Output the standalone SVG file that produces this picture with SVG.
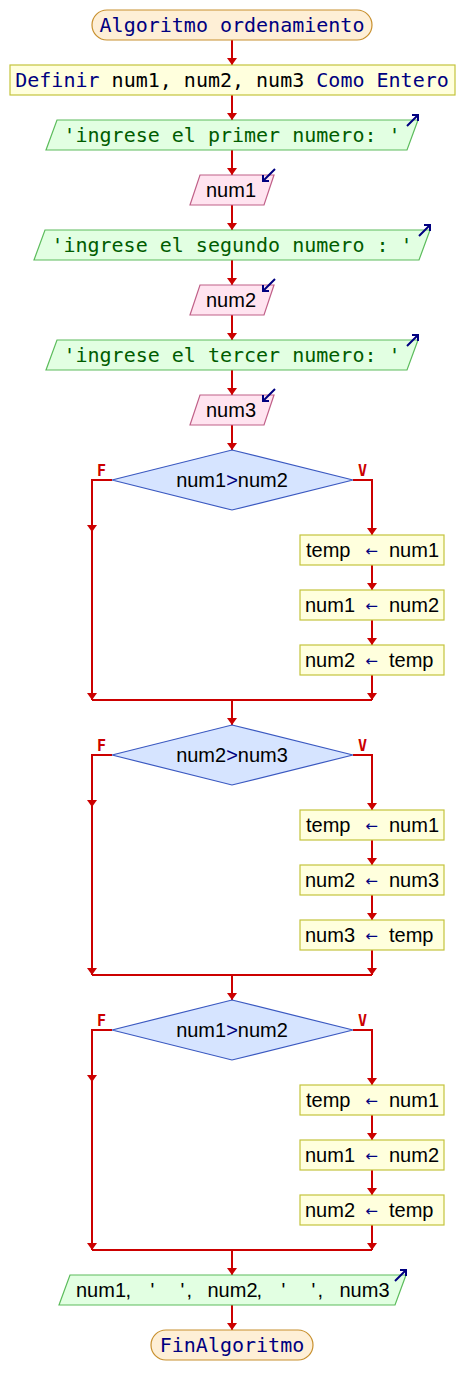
<svg xmlns="http://www.w3.org/2000/svg" width="464" height="1395" viewBox="0 0 464 1395">
<style>
.term{fill:#feefd6;stroke:#c8902e;stroke-width:1.2}
.proc{fill:#ffffdd;stroke:#c4c43c;stroke-width:1.2}
.out{fill:#e2ffe2;stroke:#5cbc5c;stroke-width:1.2}
.inp{fill:#ffe4f0;stroke:#c06088;stroke-width:1.2}
.dec{fill:#d6e4ff;stroke:#3a58c0;stroke-width:1.2}
.mono{font-family:"DejaVu Sans Mono","Liberation Mono",monospace;font-size:20px}
.sans{font-family:"Liberation Sans",Arial,sans-serif;font-size:20px;fill:#000}
.kw{fill:#000080}
.str{fill:#005c00}
.arr{font-family:"DejaVu Sans",sans-serif;font-size:15px;fill:#000080}
.lbl{font-family:"DejaVu Sans Mono",monospace;font-size:15px;font-weight:bold;fill:#cc0000}
.ico{fill:none;stroke:#000080;stroke-width:2}
.con{fill:none;stroke:#cc0000;stroke-width:2}
</style>
<defs>
<marker id="ah" viewBox="0 -6 10 12" refX="7" refY="0" markerWidth="10" markerHeight="12" markerUnits="userSpaceOnUse" orient="auto">
<path d="M0,-5 L7,0 L0,5 z" fill="#cc0000"/>
</marker>
</defs>
<g id="connectors">
<path class="con" marker-end="url(#ah)" d="M232,40 V65"/>
<path class="con" marker-end="url(#ah)" d="M232,95 V120"/>
<path class="con" marker-end="url(#ah)" d="M232,150 V175"/>
<path class="con" marker-end="url(#ah)" d="M232,205 V230"/>
<path class="con" marker-end="url(#ah)" d="M232,260 V285"/>
<path class="con" marker-end="url(#ah)" d="M232,315 V340"/>
<path class="con" marker-end="url(#ah)" d="M232,370 V395"/>
<path class="con" marker-end="url(#ah)" d="M232,425 V450"/>
<path class="con" marker-end="url(#ah)" d="M112,480 H92 V532"/>
<path class="con" marker-end="url(#ah)" d="M92,532 V700"/>
<path class="con" marker-end="url(#ah)" d="M353,480 H372 V535"/>
<path class="con" marker-end="url(#ah)" d="M372,565 V590"/>
<path class="con" marker-end="url(#ah)" d="M372,620 V645"/>
<path class="con" marker-end="url(#ah)" d="M372,675 V700"/>
<path class="con" d="M92,700 H372"/>
<path class="con" marker-end="url(#ah)" d="M232,700 V725"/>
<path class="con" marker-end="url(#ah)" d="M112,755 H92 V807"/>
<path class="con" marker-end="url(#ah)" d="M92,807 V975"/>
<path class="con" marker-end="url(#ah)" d="M353,755 H372 V810"/>
<path class="con" marker-end="url(#ah)" d="M372,840 V865"/>
<path class="con" marker-end="url(#ah)" d="M372,895 V920"/>
<path class="con" marker-end="url(#ah)" d="M372,950 V975"/>
<path class="con" d="M92,975 H372"/>
<path class="con" marker-end="url(#ah)" d="M232,975 V1000"/>
<path class="con" marker-end="url(#ah)" d="M112,1030 H92 V1082"/>
<path class="con" marker-end="url(#ah)" d="M92,1082 V1250"/>
<path class="con" marker-end="url(#ah)" d="M353,1030 H372 V1085"/>
<path class="con" marker-end="url(#ah)" d="M372,1115 V1140"/>
<path class="con" marker-end="url(#ah)" d="M372,1170 V1195"/>
<path class="con" marker-end="url(#ah)" d="M372,1225 V1250"/>
<path class="con" d="M92,1250 H372"/>
<path class="con" marker-end="url(#ah)" d="M232,1250 V1275"/>
<path class="con" marker-end="url(#ah)" d="M232,1305 V1330"/>
<text class="lbl" x="101.5" y="476" text-anchor="middle">F</text>
<text class="lbl" x="362.5" y="476" text-anchor="middle">V</text>
<text class="lbl" x="101.5" y="751" text-anchor="middle">F</text>
<text class="lbl" x="362.5" y="751" text-anchor="middle">V</text>
<text class="lbl" x="101.5" y="1026" text-anchor="middle">F</text>
<text class="lbl" x="362.5" y="1026" text-anchor="middle">V</text>
</g>
<g id="start">
<rect class="term" x="92" y="10" width="280" height="30" rx="15"/>
<text class="mono kw" x="232" y="32" text-anchor="middle">Algoritmo ordenamiento</text>
</g>
<g id="define">
<rect class="proc" x="10" y="65" width="445" height="30"/>
<text class="mono" x="232" y="87" text-anchor="middle"><tspan class="kw">Definir</tspan> num1, num2, num3 <tspan class="kw">Como Entero</tspan></text>
</g>
<g id="out1">
<polygon class="out" points="57,120 418,120 407,150 46,150"/>
<text class="mono str" x="232" y="142" text-anchor="middle">'ingrese el primer numero: '</text>
<path class="ico" d="M407,126 L418,115 M412,115 H418 V121"/>
</g>
<g id="in1">
<polygon class="inp" points="200,175 274,175 264,205 190,205"/>
<text class="sans" x="231" y="197" text-anchor="middle">num1</text>
<path class="ico" d="M275,169 L263,181 M263,175 V181 H269"/>
</g>
<g id="out2">
<polygon class="out" points="45,230 430,230 419,260 34,260"/>
<text class="mono str" x="232" y="252" text-anchor="middle">'ingrese el segundo numero : '</text>
<path class="ico" d="M419,236 L430,225 M424,225 H430 V231"/>
</g>
<g id="in2">
<polygon class="inp" points="200,285 274,285 264,315 190,315"/>
<text class="sans" x="231" y="307" text-anchor="middle">num2</text>
<path class="ico" d="M275,279 L263,291 M263,285 V291 H269"/>
</g>
<g id="out3">
<polygon class="out" points="57,340 418,340 407,370 46,370"/>
<text class="mono str" x="232" y="362" text-anchor="middle">'ingrese el tercer numero: '</text>
<path class="ico" d="M407,346 L418,335 M412,335 H418 V341"/>
</g>
<g id="in3">
<polygon class="inp" points="200,395 274,395 264,425 190,425"/>
<text class="sans" x="231" y="417" text-anchor="middle">num3</text>
<path class="ico" d="M275,389 L263,401 M263,395 V401 H269"/>
</g>
<g id="dec1">
<polygon class="dec" points="232,450 353,480 232,510 112,480"/>
<text class="sans" x="232" y="487" text-anchor="middle">num1<tspan class="kw">&gt;</tspan>num2</text>
</g>
<g id="p1a">
<rect class="proc" x="300" y="535" width="144" height="30"/>
<text class="sans" x="306" y="557">temp</text><text class="arr" x="371.5" y="556" text-anchor="middle">←</text><text class="sans" x="389" y="557">num1</text>
</g>
<g id="p1b">
<rect class="proc" x="300" y="590" width="144" height="30"/>
<text class="sans" x="305" y="612">num1</text><text class="arr" x="371.5" y="611" text-anchor="middle">←</text><text class="sans" x="389" y="612">num2</text>
</g>
<g id="p1c">
<rect class="proc" x="300" y="645" width="144" height="30"/>
<text class="sans" x="305" y="667">num2</text><text class="arr" x="371.5" y="666" text-anchor="middle">←</text><text class="sans" x="389" y="667">temp</text>
</g>
<g id="dec2">
<polygon class="dec" points="232,725 353,755 232,785 112,755"/>
<text class="sans" x="232" y="762" text-anchor="middle">num2<tspan class="kw">&gt;</tspan>num3</text>
</g>
<g id="p2a">
<rect class="proc" x="300" y="810" width="144" height="30"/>
<text class="sans" x="306" y="832">temp</text><text class="arr" x="371.5" y="831" text-anchor="middle">←</text><text class="sans" x="389" y="832">num1</text>
</g>
<g id="p2b">
<rect class="proc" x="300" y="865" width="144" height="30"/>
<text class="sans" x="305" y="887">num2</text><text class="arr" x="371.5" y="886" text-anchor="middle">←</text><text class="sans" x="389" y="887">num3</text>
</g>
<g id="p2c">
<rect class="proc" x="300" y="920" width="144" height="30"/>
<text class="sans" x="305" y="942">num3</text><text class="arr" x="371.5" y="941" text-anchor="middle">←</text><text class="sans" x="389" y="942">temp</text>
</g>
<g id="dec3">
<polygon class="dec" points="232,1000 353,1030 232,1060 112,1030"/>
<text class="sans" x="232" y="1037" text-anchor="middle">num1<tspan class="kw">&gt;</tspan>num2</text>
</g>
<g id="p3a">
<rect class="proc" x="300" y="1085" width="144" height="30"/>
<text class="sans" x="306" y="1107">temp</text><text class="arr" x="371.5" y="1106" text-anchor="middle">←</text><text class="sans" x="389" y="1107">num1</text>
</g>
<g id="p3b">
<rect class="proc" x="300" y="1140" width="144" height="30"/>
<text class="sans" x="305" y="1162">num1</text><text class="arr" x="371.5" y="1161" text-anchor="middle">←</text><text class="sans" x="389" y="1162">num2</text>
</g>
<g id="p3c">
<rect class="proc" x="300" y="1195" width="144" height="30"/>
<text class="sans" x="305" y="1217">num2</text><text class="arr" x="371.5" y="1216" text-anchor="middle">←</text><text class="sans" x="389" y="1217">temp</text>
</g>
<g id="outFinal">
<polygon class="out" points="70,1275 406,1275 395,1305 59,1305"/>
<text class="sans" y="1297"><tspan x="76">num1</tspan><tspan x="125.5">,</tspan><tspan x="150.5">'</tspan><tspan x="180.5">'</tspan><tspan x="186.5">,</tspan><tspan x="207.5">num2</tspan><tspan x="256.5">,</tspan><tspan x="281.5">'</tspan><tspan x="311.5">'</tspan><tspan x="317.5">,</tspan><tspan x="339.5">num3</tspan></text>
<path class="ico" d="M395,1281 L406,1270 M400,1270 H406 V1276"/>
</g>
<g id="end">
<rect class="term" x="151" y="1330" width="162" height="30" rx="15"/>
<text class="mono kw" x="232" y="1352" text-anchor="middle">FinAlgoritmo</text>
</g>
</svg>
